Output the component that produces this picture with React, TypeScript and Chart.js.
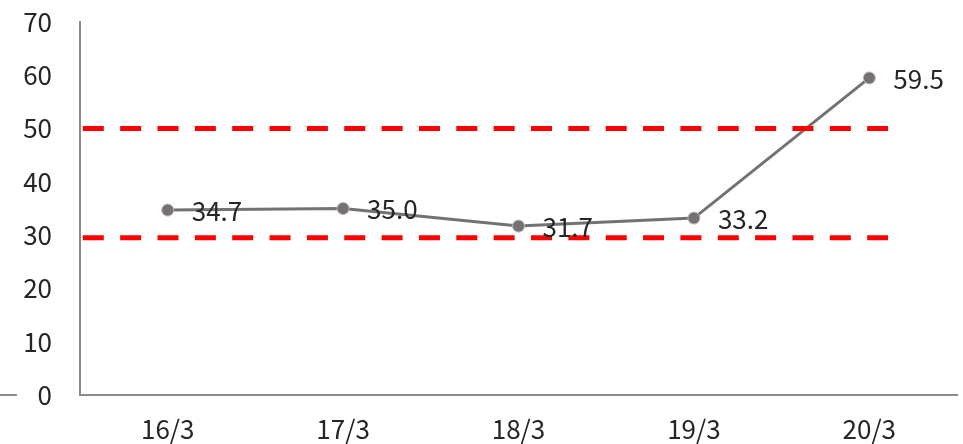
import React, { useEffect, useRef } from "react";
import { Chart, registerables } from "chart.js";

Chart.register(...registerables);

const categories = ["16/3", "17/3", "18/3", "19/3", "20/3"];
const values = [34.7, 35.0, 31.7, 33.2, 59.5];
const upperLimit = 50;
const lowerLimit = 29.5;
const limitFrom = -0.484;
const limitTo = 4.107;
const yTicks = [0, 10, 20, 30, 40, 50, 60, 70];

const FONT = "'Noto Sans CJK JP', 'Noto Sans', sans-serif";
const FONT_SIZE = 26;

const labelPlugin = {
  id: "valueLabels",
  afterDatasetsDraw(chart: any) {
    const ctx = chart.ctx;
    const meta = chart.getDatasetMeta(0);
    ctx.save();
    ctx.font = `${FONT_SIZE}px ${FONT}`;
    ctx.fillStyle = "#262626";
    ctx.textAlign = "left";
    ctx.textBaseline = "middle";
    meta.data.forEach((pt: any, i: number) => {
      ctx.fillText(values[i].toFixed(1), pt.x + 24, pt.y + 1);
    });
    ctx.restore();
  },
  afterDraw(chart: any) {
    const ctx = chart.ctx;
    const y0 = chart.scales.y.getPixelForValue(0);
    ctx.save();
    ctx.strokeStyle = "#8c8c8c";
    ctx.lineWidth = 2;
    ctx.beginPath();
    ctx.moveTo(0, y0);
    ctx.lineTo(17, y0);
    ctx.stroke();
    ctx.restore();
  },
};

export default function App() {
  const ref = useRef<HTMLCanvasElement>(null);
  useEffect(() => {
    if (!ref.current) return;
    const chart = new Chart(ref.current, {
      type: "line",
      data: {
        datasets: [
          {
            data: values.map((v, i) => ({ x: i, y: v })),
            borderColor: "#767171",
            borderWidth: 3,
            pointRadius: 6,
            pointBackgroundColor: "#767171",
            pointBorderColor: "#b8b6b6",
            pointBorderWidth: 1,
            order: 2,
          },
          {
            data: [
              { x: limitFrom, y: upperLimit },
              { x: limitTo, y: upperLimit },
            ],
            borderColor: "#ff0000",
            borderWidth: 5,
            borderDash: [21, 16.35],
            pointRadius: 0,
            order: 1,
          },
          {
            data: [
              { x: limitFrom, y: lowerLimit },
              { x: limitTo, y: lowerLimit },
            ],
            borderColor: "#ff0000",
            borderWidth: 5,
            borderDash: [21, 16.35],
            pointRadius: 0,
            order: 1,
          },
        ],
      },
      options: {
        animation: false,
        responsive: false,
        layout: { autoPadding: false, padding: { top: 22, right: 6, left: 0, bottom: 0 } },
        plugins: { legend: { display: false }, tooltip: { enabled: false } },
        scales: {
          x: {
            type: "linear",
            min: -0.5,
            max: 4.5,
            afterBuildTicks: (s: any) => {
              s.ticks = categories.map((_, i) => ({ value: i }));
            },
            afterFit: (s: any) => {
              s.height = 49;
              s.paddingLeft = 0;
              s.paddingRight = 0;
            },
            ticks: {
              callback: (v: any) => categories[v as number] ?? "",
              font: { family: FONT, size: FONT_SIZE },
              color: "#262626",
              padding: 19,
              maxRotation: 0,
              autoSkip: false,
            },
            grid: { display: false, drawTicks: false },
            border: { display: true, color: "#8c8c8c", width: 2 },
          },
          y: {
            min: 0,
            max: 70,
            afterBuildTicks: (s: any) => {
              s.ticks = yTicks.map((v) => ({ value: v }));
            },
            afterFit: (s: any) => {
              s.width = 80;
              s.paddingTop = 0;
              s.paddingBottom = 0;
            },
            ticks: {
              font: { family: FONT, size: FONT_SIZE },
              color: "#262626",
              padding: 28,
            },
            grid: { display: false, drawTicks: false },
            border: { display: true, color: "#8c8c8c", width: 2 },
          },
        },
      },
      plugins: [labelPlugin],
    } as any);
    return () => chart.destroy();
  }, []);
  return (
    <div style={{ position: "fixed", left: 0, top: 0, width: 963, height: 444, background: "#fff" }}>
      <canvas ref={ref} width={963} height={444} style={{ display: "block" }} />
    </div>
  );
}
